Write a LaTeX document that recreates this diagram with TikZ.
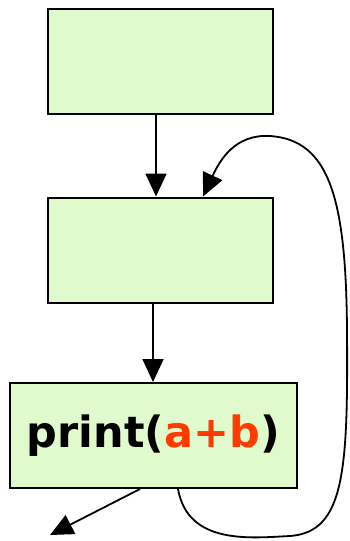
\documentclass[tikz,border=0pt]{standalone}
\usepackage{fontspec}
\usetikzlibrary{arrows.meta}
\newfontfamily\labelfont{DejaVu Sans}
\definecolor{boxfill}{HTML}{E0F9CD}
\definecolor{argred}{HTML}{FF3B00}
\begin{document}
\begin{tikzpicture}[x=1pt,y=-1pt,
  blockbox/.style={draw=black,line width=2pt,fill=boxfill,inner sep=0pt},
  flow/.style={line width=1.8pt,-{Triangle[length=23pt,width=21pt]}}]
\useasboundingbox (0,0) rectangle (349,541);
\node[blockbox,minimum width=225pt,minimum height=105pt] (b1) at (160.5,61) {};
\node[blockbox,minimum width=225pt,minimum height=105pt] (b2) at (160.5,250) {};
\node[blockbox,minimum width=287pt,minimum height=105pt] (b3) at (153.5,435.5)
  {\labelfont\bfseries\fontsize{43}{45}\selectfont print(\textcolor{argred}{a+b})};
\coordinate (out) at (50,535);
\draw[flow] (b1.south -| 156,0) -- (b2.north -| 156,0);
\draw[flow] (b2.south -| 153,0) -- (b3.north -| 153,0);
\draw[flow] (b3.south -| 140,0) -- (out);
\draw[flow] (b3.south -| 178,0) .. controls (188,545) and (250,538) .. (290,536)
  .. controls (345,532) and (348,470) .. (347,330)
  .. controls (346,200) and (330,140) .. (270,136)
  .. controls (235,134) and (220,160) .. (b2.north -| 203,0);
\end{tikzpicture}
\end{document}
